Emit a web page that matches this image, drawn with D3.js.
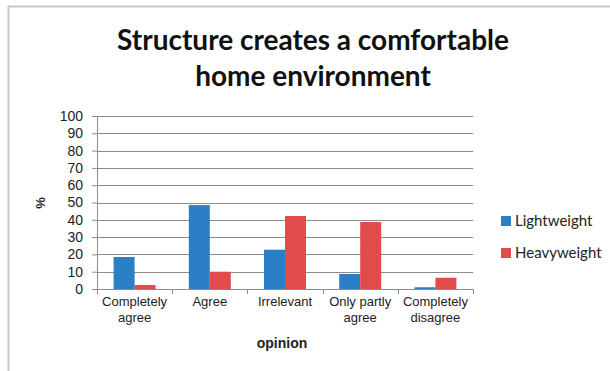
<!DOCTYPE html>
<html>
<head>
<meta charset="utf-8">
<script src="https://cdn.jsdelivr.net/npm/d3@7"></script>
<style>
  html, body { margin: 0; padding: 0; background: #fff; }
  svg { display: block; }
</style>
</head>
<body>
<svg id="chart" width="610" height="371"></svg>
<script>
// Survey answers per opinion category, in percent
const categories = ["Completely agree", "Agree", "Irrelevant", "Only partly agree", "Completely disagree"];
const categoryLines = [["Completely", "agree"], ["Agree"], ["Irrelevant"], ["Only partly", "agree"], ["Completely", "disagree"]];
const seriesNames = ["Lightweight", "Heavyweight"];
const lightweight = [18.5, 48.5, 22.7, 8.7, 1];
const heavyweight = [2.3, 10, 42.2, 38.7, 6.5];
const yTicks = [0, 10, 20, 30, 40, 50, 60, 70, 80, 90, 100];
const colors = ["#2a7fc6", "#e04b4b"];
const titleLines = ["Structure creates a comfortable", "home environment"];

const svg = d3.select("#chart");
const margin = { left: 97, right: 137, top: 116, bottom: 82 };
const W = 610, H = 371;

// outer chart frame (top and left edges visible)
svg.append("path")
  .attr("d", `M8.5,${H} V6.5 H${W}`)
  .attr("fill", "none").attr("stroke", "#c8c8c8").attr("stroke-width", 2);

const x0 = d3.scaleBand().domain(categories).range([margin.left, W - margin.right]).paddingInner(0).paddingOuter(0);
const x1 = d3.scaleBand().domain(seriesNames).range([0, x0.bandwidth()]).paddingInner(0).paddingOuter(0.79);
const y = d3.scaleLinear().domain([0, 100]).range([H - margin.bottom, margin.top]);

// gridlines + y axis
const yAxis = d3.axisLeft(y).tickValues(yTicks).tickSize(5).tickPadding(9);
const gy = svg.append("g").attr("transform", `translate(${margin.left},0)`).call(yAxis);
gy.select(".domain").attr("stroke", "#8c8c8c");
gy.selectAll(".tick line").attr("stroke", "#8c8c8c");
gy.selectAll(".tick text").attr("font-family", "Liberation Sans, Arial, sans-serif").attr("font-size", 14).attr("fill", "#222");

svg.append("g").selectAll("line").data(yTicks.filter(d => d > 0)).join("line")
  .attr("x1", margin.left).attr("x2", W - margin.right)
  .attr("y1", d => Math.round(y(d)) + 0.5).attr("y2", d => Math.round(y(d)) + 0.5)
  .attr("stroke", "#8c8c8c").attr("stroke-width", 1);

// bars
const data = categories.map((c, i) => ({ cat: c, vals: [lightweight[i], heavyweight[i]] }));
svg.append("g").selectAll("g").data(data).join("g")
  .attr("transform", d => `translate(${x0(d.cat)},0)`)
  .selectAll("rect").data(d => d.vals.map((v, j) => ({ name: seriesNames[j], v, j }))).join("rect")
  .attr("x", d => x1(d.name)).attr("width", x1.bandwidth())
  .attr("y", d => y(d.v)).attr("height", d => y(0) - y(d.v))
  .attr("fill", d => colors[d.j]);

// x axis with ticks at category boundaries
const baseY = y(0);
const gx = svg.append("g").attr("transform", `translate(0,${baseY})`);
gx.append("line").attr("x1", margin.left).attr("x2", W - margin.right).attr("y1", 0.5).attr("y2", 0.5).attr("stroke", "#8c8c8c");
const bounds = categories.map(c => x0(c)).concat([x0(categories[categories.length - 1]) + x0.bandwidth()]);
gx.selectAll("line.tk").data(bounds).join("line").attr("class", "tk")
  .attr("x1", d => Math.round(d) + 0.5).attr("x2", d => Math.round(d) + 0.5)
  .attr("y1", 0).attr("y2", 5).attr("stroke", "#8c8c8c");
categories.forEach((c, i) => {
  const t = gx.append("text").attr("x", x0(c) + x0.bandwidth() / 2).attr("y", 17)
    .attr("text-anchor", "middle").attr("font-family", "Liberation Sans, Arial, sans-serif")
    .attr("font-size", 13).attr("fill", "#222");
  categoryLines[i].forEach((ln, k) => t.append("tspan").attr("x", x0(c) + x0.bandwidth() / 2).attr("dy", k === 0 ? 0 : 16).text(ln));
});

// axis titles
svg.append("text").attr("x", (margin.left + W - margin.right) / 2 - 3).attr("y", 348)
  .attr("text-anchor", "middle").attr("font-family", "Liberation Sans, Arial, sans-serif")
  .attr("font-size", 14).attr("font-weight", "bold").attr("fill", "#222").text("opinion");
svg.append("text").attr("transform", "translate(45,203) rotate(-90)")
  .attr("text-anchor", "middle").attr("font-family", "Liberation Sans, Arial, sans-serif")
  .attr("font-size", 13).attr("font-weight", "bold").attr("fill", "#222").text("%");

// title
svg.append("g").selectAll("text").data(titleLines).join("text")
  .attr("x", 313).attr("y", (d, i) => 50 + i * 36)
  .attr("text-anchor", "middle").attr("font-family", "Lato, Open Sans, sans-serif")
  .attr("font-size", 28).attr("font-weight", "bold").attr("fill", "#111").text(d => d);

// legend
const lg = svg.append("g").selectAll("g").data(seriesNames).join("g")
  .attr("transform", (d, i) => `translate(501,${216 + i * 32})`);
lg.append("rect").attr("width", 10).attr("height", 10).attr("fill", (d, i) => colors[i]);
lg.append("text").attr("x", 14).attr("y", 10).attr("font-family", "Lato, Open Sans, sans-serif")
  .attr("font-size", 15).attr("fill", "#222").text(d => d);
</script>
</body>
</html>
